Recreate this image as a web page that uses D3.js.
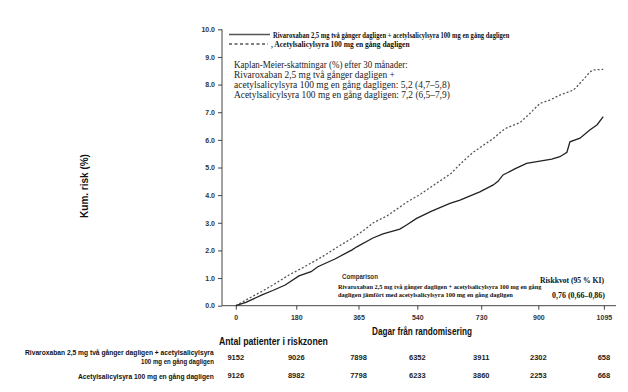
<!DOCTYPE html>
<html><head><meta charset="utf-8">
<script src="https://cdn.jsdelivr.net/npm/d3@7"></script>
<style>body{margin:0;background:#fff}svg{display:block}</style>
</head><body><svg id="c" width="628" height="392"></svg>
<script>
// ---- data ----
const rivaDays = [0,30,78,110,147,188,224,244,295,346,360,408,438,488,508,538,581,637,667,690,726,766,780,795,830,865,900,940,964,985,994,1024,1053,1075,1093];
const rivaRisk = [0,0.12,0.39,0.55,0.75,1.08,1.23,1.41,1.69,2.02,2.13,2.45,2.6,2.77,2.92,3.16,3.41,3.70,3.82,3.94,4.12,4.37,4.5,4.73,4.95,5.15,5.22,5.3,5.39,5.55,5.93,6.06,6.36,6.55,6.84];
const asaDays = [0,40,78,120,158,200,257,310,346,380,409,450,508,550,597,640,667,706,730,766,800,845,870,905,934,964,1004,1014,1033,1053,1063,1093];
const asaRisk = [0,0.27,0.52,0.82,1.11,1.38,1.77,2.18,2.44,2.72,3.0,3.25,3.74,4.04,4.43,4.78,5.12,5.55,5.75,6.05,6.4,6.62,6.9,7.32,7.44,7.62,7.8,7.92,8.17,8.45,8.53,8.55];
const xTicks = [0,180,365,540,730,900,1095];
const yTicks = [0,1,2,3,4,5,6,7,8,9,10];
const rivaAtRisk = [9152,9026,7898,6352,3911,2302,658];
const asaAtRisk = [9126,8982,7798,6233,3860,2253,668];
const legendLabels = ["Rivaroxaban 2,5 mg två gånger dagligen + acetylsalicylsyra 100 mg en gång dagligen", ", Acetylsalicylsyra 100 mg en gång dagligen"];
const kmLines = ["Kaplan-Meier-skattningar (%) efter 30 månader:", "Rivaroxaban 2,5 mg två gånger dagligen +", "acetylsalicylsyra 100 mg en gång dagligen: 5,2 (4,7–5,8)", "Acetylsalicylsyra 100 mg en gång dagligen: 7,2 (6,5–7,9)"];

const svg = d3.select("#c");
const x = d3.scaleLinear().domain([-41, 1131]).range([222, 616]);
const y = d3.scaleLinear().domain([0, 10]).range([305.7, 29.3]);
const sans = "'Liberation Sans', Arial, sans-serif";
const narrow = "'Liberation Sans Narrow', 'Liberation Sans', Arial, sans-serif";
const serif = "'Liberation Serif', 'Times New Roman', serif";

// draws text and horizontally scales it (via transform) to a target width
function txt(s, px, py, opts) {
  const t = svg.append("text").attr("x", 0).attr("y", 0).text(s)
    .attr("font-family", opts.font || serif)
    .attr("font-size", opts.size || 9)
    .attr("font-weight", opts.weight || "normal")
    .attr("fill", opts.fill || "#111");
  const w = t.node().getComputedTextLength();
  const len = opts.len || w;
  const sx = len / w;
  let x0 = px;
  if (opts.anchor === "end") x0 = px - len;
  else if (opts.anchor === "middle") x0 = px - len / 2;
  t.attr("transform", `translate(${x0},${py}) ${opts.rot ? "rotate(" + opts.rot + ")" : ""} scale(${sx},1)`);
  return t;
}

// axes
const ya = svg.append("g").attr("transform", "translate(222,0)")
  .call(d3.axisLeft(y).tickValues(yTicks).tickFormat(d3.format(".1f")).tickSize(4).tickPadding(3));
const xa = svg.append("g").attr("transform", "translate(0,305.7)")
  .call(d3.axisBottom(x).tickValues(xTicks).tickFormat(d3.format("d")).tickSize(4).tickPadding(5));
[ya, xa].forEach(g => {
  g.select(".domain").attr("stroke", "#444").attr("stroke-width", 1);
  g.selectAll(".tick line").attr("stroke", "#444");
  g.selectAll(".tick text").attr("font-family", sans).attr("font-weight", "bold")
    .attr("font-size", 7).attr("fill", "#333");
});
ya.select(".domain").attr("d", "M0,29.3V305.7");
xa.select(".domain").attr("d", "M222,0H616");

// lines
const line = d3.line().x(d => x(d[0])).y(d => y(d[1]));
svg.append("path").datum(asaDays.map((d, i) => [d, asaRisk[i]]))
  .attr("d", line).attr("fill", "none").attr("stroke", "#555").attr("stroke-width", 1.3)
  .attr("stroke-dasharray", "2,2");
svg.append("path").datum(rivaDays.map((d, i) => [d, rivaRisk[i]]))
  .attr("d", line).attr("fill", "none").attr("stroke", "#222").attr("stroke-width", 1.3);

// legend
svg.append("line").attr("x1", 229).attr("x2", 270).attr("y1", 34.5).attr("y2", 34.5)
  .attr("stroke", "#555").attr("stroke-width", 1.5);
svg.append("line").attr("x1", 229).attr("x2", 268).attr("y1", 44).attr("y2", 44)
  .attr("stroke", "#555").attr("stroke-width", 1.3).attr("stroke-dasharray", "3,2.5");
txt(legendLabels[0], 273, 37.5, {size: 8.5, weight: "bold", len: 237});
txt(legendLabels[1], 271, 47, {size: 8.5, weight: "bold", len: 139});

// KM text
const kmLen = [174, 161, 216, 216];
kmLines.forEach((s, i) => txt(s, 234, 68 + i * 10, {size: 9.5, len: kmLen[i], fill: "#222"}));

// comparison block
txt("Comparison", 342, 279, {font: sans, size: 7, weight: "bold", fill: "#333", len: 36});
txt("Rivaroxaban 2,5 mg två gånger dagligen + acetylsalicylsyra 100 mg en gång", 338, 289, {size: 7, weight: "bold", len: 204});
txt("dagligen jämfört med acetylsalicylsyra 100 mg en gång dagligen", 338, 297, {size: 7, weight: "bold", len: 175});
txt("Riskkvot (95 % KI)", 540, 283, {size: 8, weight: "bold", len: 64});
txt("0,76 (0,66–0,86)", 552, 298, {size: 8, weight: "bold", len: 53});

// axis titles
const kt = svg.append("text").text("Kum. risk (%)")
  .attr("font-family", sans).attr("font-size", 10).attr("font-weight", "bold").attr("fill", "#111")
  .attr("text-anchor", "middle").attr("transform", "translate(88,186) rotate(-90)");
txt("Dagar från randomisering", 422, 335, {font: narrow, size: 10, weight: "bold", anchor: "middle", len: 100});

// at-risk table
txt("Antal patienter i riskzonen", 219, 344.5, {font: narrow, size: 10, weight: "bold", len: 109});
txt("Rivaroxaban 2,5 mg två gånger dagligen + acetylsalicylsyra", 214, 354.5, {font: narrow, size: 8, weight: "bold", anchor: "end", len: 189});
txt("100 mg en gång dagligen", 214, 363.5, {font: narrow, size: 8, weight: "bold", anchor: "end", len: 73});
txt("Acetylsalicylsyra 100 mg en gång dagligen", 214, 379, {font: narrow, size: 8, weight: "bold", anchor: "end", len: 136});
svg.append("g").selectAll("text").data(rivaAtRisk).join("text")
  .attr("x", (d, i) => x(xTicks[i])).attr("y", 360).attr("text-anchor", "middle")
  .attr("font-family", narrow).attr("font-weight", "bold").attr("font-size", 7.5).attr("fill", "#222")
  .text(d => d);
svg.append("g").selectAll("text").data(asaAtRisk).join("text")
  .attr("x", (d, i) => x(xTicks[i])).attr("y", 378).attr("text-anchor", "middle")
  .attr("font-family", narrow).attr("font-weight", "bold").attr("font-size", 7.5).attr("fill", "#222")
  .text(d => d);
</script></body></html>
